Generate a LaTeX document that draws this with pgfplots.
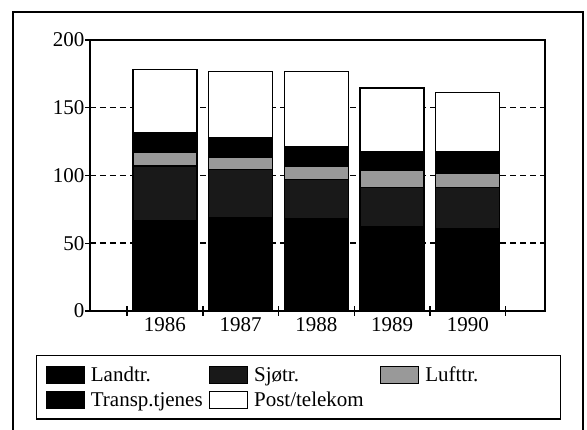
\documentclass[border=0pt]{standalone}
\usepackage{fontspec}
\setmainfont{Liberation Serif}
\usepackage{pgfplots}
\pgfplotsset{compat=1.18}
\begin{document}
\begin{tikzpicture}[x=1pt,y=1pt]
\useasboundingbox (0,0) rectangle (587,430);
\draw[line width=1.4pt] (13,0) -- (13,418) -- (583,418) -- (583,0);
\begin{axis}[
  at={(90pt,119pt)}, anchor=south west,
  width=455pt, height=271pt, scale only axis,
  /pgf/number format/assume math mode=true,
  ymin=0, ymax=200, ytick={0,50,100,150,200},
  xmin=-0.99, xmax=5.02,
  xtick={-0.5,0.5,1.5,2.5,3.5,4.5}, xticklabels={},
  extra x ticks={0,1,2,3,4},
  extra x tick labels={1986,1987,1988,1989,1990},
  extra x tick style={major tick length=0pt},
  xtick pos=bottom, ytick pos=left,
  tick align=center, major tick length=10pt,
  tick style={line width=1.4pt, black},
  axis line style={line width=1.6pt},
  ymajorgrids,
  grid style={black, line width=1.5pt, dash pattern=on 6pt off 4pt},
  ybar stacked, bar width=0.845,
  font=\fontsize{21}{24}\selectfont,
  ticklabel style={font=\fontsize{21}{24}\selectfont},
  xticklabel style={yshift=-3pt},
  yticklabel style={xshift=3pt},
  legend columns=3,
  legend cell align=left,
  legend style={at={(-0.1187,-0.1624)}, anchor=north west, draw=black,
    line width=1.4pt, inner sep=9pt, row sep=5pt,
    font=\fontsize{21}{24}\selectfont,
    nodes={inner sep=2pt},
    /tikz/every odd column/.append style={column sep=4pt}},
  legend image code/.code={\draw[#1, line width=1.2pt, draw=black] (0pt,-8.5pt) rectangle (38pt,8.5pt);},
]
\addplot[fill=black, draw=black, line width=1.2pt] coordinates {(0,67) (1,69) (2,68) (3,62) (4,61)};
\addlegendentry{\makebox[116pt][l]{Landtr.}}
\addplot[fill=black!90, draw=black, line width=1.2pt] coordinates {(0,40) (1,35.5) (2,29) (3,29) (4,30)};
\addlegendentry{\makebox[124pt][l]{Sjøtr.}}
\addplot[fill=black!40, draw=black, line width=1.2pt] coordinates {(0,10) (1,9) (2,10) (3,12.6) (4,10.5)};
\addlegendentry{\makebox[124pt][l]{Lufttr.}}
\addplot[fill=black, draw=black, line width=1.2pt] coordinates {(0,15) (1,14.5) (2,14.5) (3,14) (4,16)};
\addlegendentry{\makebox[116pt][l]{Transp.tjenes}}
\addplot[fill=white, draw=black, line width=1.2pt] coordinates {(0,46) (1,49) (2,55) (3,47) (4,43.5)};
\addlegendentry{\makebox[124pt][l]{Post/telekom}}
\end{axis}
\end{tikzpicture}
\end{document}
